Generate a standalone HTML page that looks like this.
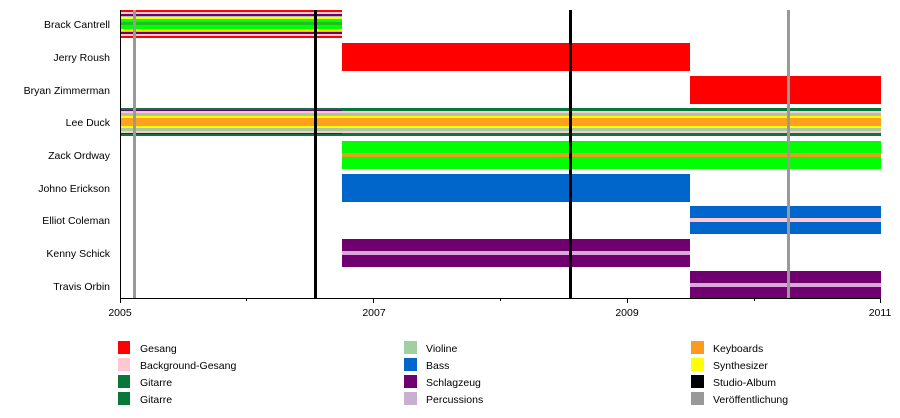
<!DOCTYPE html>
<html><head><style>body{margin:0;background:#fff}svg{display:block}text{font-family:"Liberation Sans",sans-serif;font-size:10.5px;fill:#000}</style></head><body>
<svg width="900" height="418" xmlns="http://www.w3.org/2000/svg">
<g>
<rect x="120" y="10" width="222" height="28" fill="#f00"/>
<rect x="120" y="12" width="222" height="24" fill="#ffc8d0"/>
<rect x="120" y="14" width="222" height="20" fill="#700070"/>
<rect x="120" y="16" width="222" height="16" fill="#a8c8a0"/>
<rect x="120" y="17" width="222" height="14" fill="#ff0"/>
<rect x="120" y="19" width="222" height="10" fill="#0f0"/>
<rect x="120" y="22" width="222" height="3" fill="#20c020"/>
</g>
<rect x="342" y="43" width="348" height="28" fill="#f00"/>
<rect x="690" y="76" width="191" height="28" fill="#f00"/>
<g>
<rect x="120" y="108" width="761" height="28" fill="#087838"/>
<rect x="120" y="110" width="222" height="24" fill="#700070"/>
<rect x="120" y="111" width="761" height="22" fill="#ffc8d0"/>
<rect x="120" y="113" width="761" height="18" fill="#a8c8a0"/>
<rect x="120" y="116" width="761" height="12" fill="#ff0"/>
<rect x="120" y="118" width="761" height="8" fill="#ffa020"/>
</g>
<rect x="342" y="141" width="539" height="28" fill="#0f0"/>
<rect x="342" y="153" width="539" height="4" fill="#e0a020"/>
<rect x="342" y="174" width="348" height="28" fill="#0066cc"/>
<rect x="690" y="206" width="191" height="28" fill="#0066cc"/>
<rect x="690" y="218" width="191" height="4" fill="#ffc8d0"/>
<rect x="342" y="239" width="348" height="28" fill="#700070"/>
<rect x="342" y="251" width="348" height="4" fill="#d8a8d8"/>
<rect x="690" y="271" width="191" height="28" fill="#700070"/>
<rect x="690" y="283" width="191" height="4" fill="#d8a8d8"/>
<rect x="133" y="10" width="3" height="288" fill="#999"/>
<rect x="787" y="10" width="3" height="288" fill="#999"/>
<rect x="314" y="10" width="3" height="288" fill="#000"/>
<rect x="569" y="10" width="3" height="288" fill="#000"/>
<line x1="120.5" y1="10" x2="120.5" y2="303" stroke="#000"/>
<line x1="120" y1="298.5" x2="881" y2="298.5" stroke="#000"/>
<g stroke="#000">
<line x1="373.5" y1="298" x2="373.5" y2="303"/>
<line x1="627.5" y1="298" x2="627.5" y2="303"/>
<line x1="880.5" y1="298" x2="880.5" y2="303"/>
<line x1="246.5" y1="298" x2="246.5" y2="301"/>
<line x1="500.5" y1="298" x2="500.5" y2="301"/>
<line x1="754.5" y1="298" x2="754.5" y2="301"/>
</g>
<g text-anchor="middle">
<text x="120" y="316">2005</text><text x="374" y="316">2007</text><text x="627" y="316">2009</text><text x="880" y="316">2011</text>
</g>
<g text-anchor="end">
<text x="110" y="28">Brack Cantrell</text>
<text x="110" y="61">Jerry Roush</text>
<text x="110" y="94">Bryan Zimmerman</text>
<text x="110" y="126">Lee Duck</text>
<text x="110" y="159">Zack Ordway</text>
<text x="110" y="192">Johno Erickson</text>
<text x="110" y="224">Elliot Coleman</text>
<text x="110" y="257">Kenny Schick</text>
<text x="110" y="290">Travis Orbin</text>
</g>
<rect x="118" y="341" width="12" height="13" fill="#f00"/><text x="140" y="352">Gesang</text>
<rect x="118" y="358" width="12" height="13" fill="#ffc8d0"/><text x="140" y="369">Background-Gesang</text>
<rect x="118" y="375" width="12" height="13" fill="#087838"/><text x="140" y="386">Gitarre</text>
<rect x="118" y="392" width="12" height="13" fill="#087838"/><text x="140" y="403">Gitarre</text>
<rect x="404" y="341" width="13" height="13" fill="#a0d0a0"/><text x="426" y="352">Violine</text>
<rect x="404" y="358" width="13" height="13" fill="#0066cc"/><text x="426" y="369">Bass</text>
<rect x="404" y="375" width="13" height="13" fill="#700070"/><text x="426" y="386">Schlagzeug</text>
<rect x="404" y="392" width="13" height="13" fill="#c8b0d0"/><text x="426" y="403">Percussions</text>
<rect x="691" y="341" width="13" height="13" fill="#ff9a20"/><text x="713" y="352">Keyboards</text>
<rect x="691" y="358" width="13" height="13" fill="#ff0"/><text x="713" y="369">Synthesizer</text>
<rect x="691" y="375" width="13" height="13" fill="#000"/><text x="713" y="386">Studio-Album</text>
<rect x="691" y="392" width="13" height="13" fill="#999"/><text x="713" y="403">Veröffentlichung</text>
</svg>
</body></html>
